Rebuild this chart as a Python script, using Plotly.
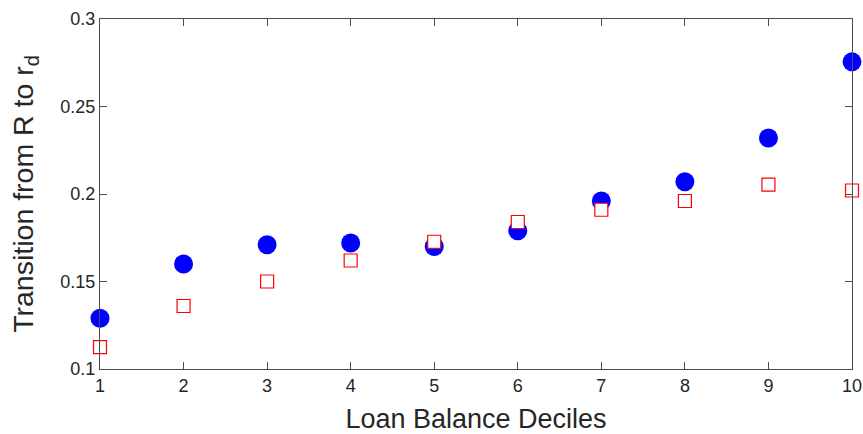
import plotly.graph_objects as go

deciles = [1, 2, 3, 4, 5, 6, 7, 8, 9, 10]
data_vals = [0.129, 0.160, 0.171, 0.172, 0.170, 0.179, 0.196, 0.207, 0.232, 0.2755]
model_vals = [0.1125, 0.136, 0.150, 0.162, 0.1727, 0.184, 0.191, 0.196, 0.2053, 0.202]
x_ticks = [1, 2, 3, 4, 5, 6, 7, 8, 9, 10]
y_ticks = [0.1, 0.15, 0.2, 0.25, 0.3]
y_tick_text = ["0.1", "0.15", "0.2", "0.25", "0.3"]

fig = go.Figure()
fig.add_trace(go.Scatter(
    x=deciles, y=data_vals, mode="markers",
    marker=dict(symbol="circle", size=19, color="#0000ff", line=dict(width=0)),
    cliponaxis=False, showlegend=False,
))
fig.add_trace(go.Scatter(
    x=deciles, y=model_vals, mode="markers",
    marker=dict(symbol="square", size=13, color="white",
                line=dict(color="#ff0000", width=1.2)),
    cliponaxis=False, showlegend=False,
))

axis_color = "#4d4d4d"
text_color = "#262626"
fig.update_layout(
    width=863, height=434,
    margin=dict(l=100, r=11, t=19, b=65),
    paper_bgcolor="white", plot_bgcolor="white",
    font=dict(family="Liberation Sans, Arial, sans-serif", color=text_color),
    xaxis=dict(
        range=[1, 10], tickvals=x_ticks, ticks="inside", ticklen=7,
        tickcolor=axis_color, showline=True, linecolor=axis_color, linewidth=1,
        mirror="ticks", showgrid=False, zeroline=False, automargin=False,
        tickfont=dict(size=18, color=text_color),
        title=dict(text="Loan Balance Deciles", font=dict(size=27, color=text_color),
                   standoff=14),
    ),
    yaxis=dict(
        range=[0.1, 0.3], tickvals=y_ticks, ticktext=y_tick_text, ticks="inside",
        ticklen=7, tickcolor=axis_color, showline=True, linecolor=axis_color,
        linewidth=1, mirror="ticks", showgrid=False, zeroline=False, automargin=False,
        tickfont=dict(size=18, color=text_color),
        title=dict(text="Transition from R to r<sub>d</sub>",
                   font=dict(size=28.5, color=text_color), standoff=18),
    ),
)

fig.write_html("out.html")
